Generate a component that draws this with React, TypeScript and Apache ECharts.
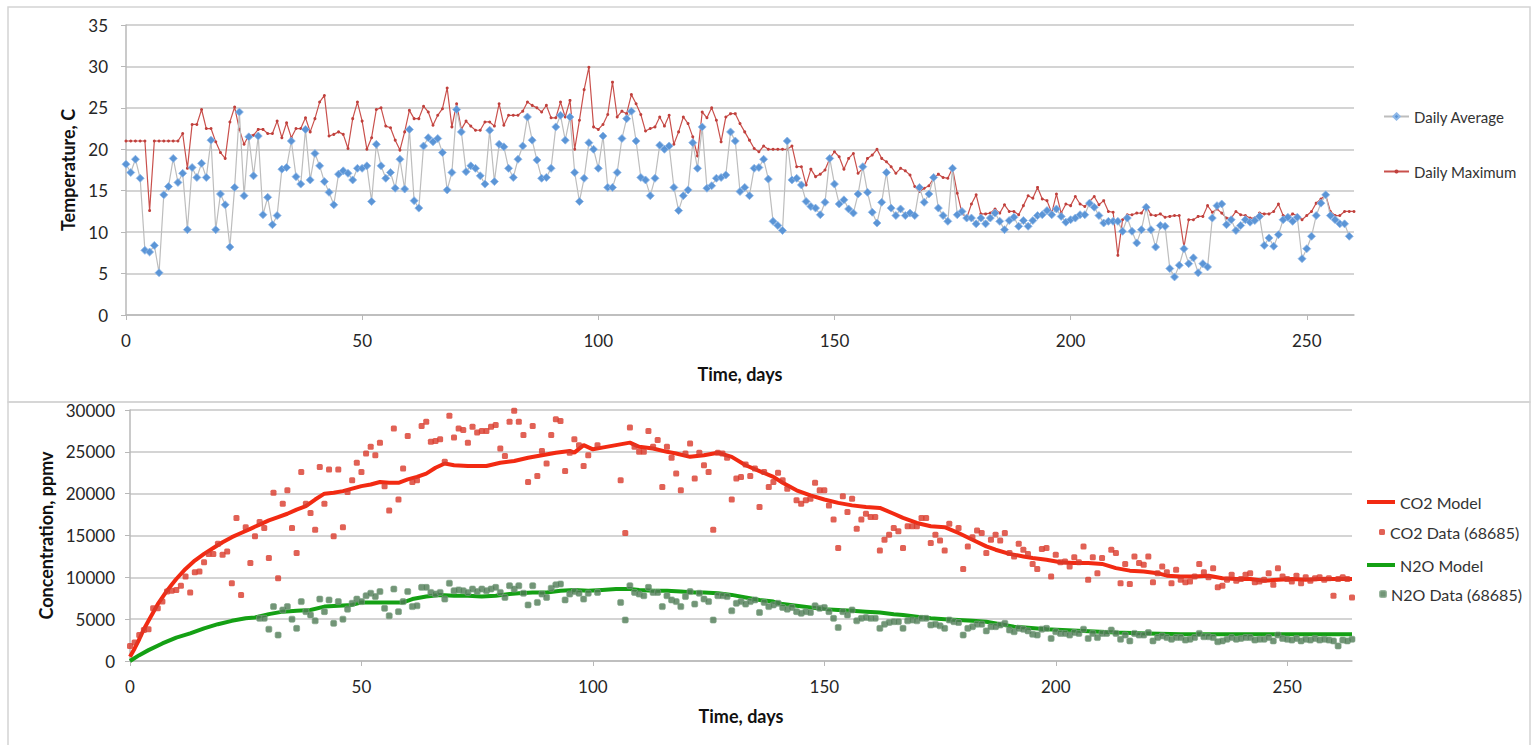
import React, { useEffect, useRef } from "react";
import * as echarts from "echarts";

// ---------- Top chart: daily temperatures (index = day) ----------
const avgTemp = [
  18.2, 17.2, 18.8, 16.5, 7.8, 7.6, 8.4, 5.1, 14.5, 15.5,
  18.9, 16, 17.1, 10.3, 17.8, 16.6, 18.3, 16.6, 21.1, 10.3,
  14.6, 13.3, 8.2, 15.4, 24.5, 14.4, 21.5, 16.8, 21.6, 12.1,
  14.2, 10.9, 12, 17.6, 17.8, 21, 16.7, 15.8, 22.4, 16.3,
  19.5, 18, 16.1, 14.8, 13.3, 17, 17.4, 17.1, 16.3, 17.7,
  17.7, 18, 13.7, 20.6, 18, 16.5, 17.2, 15.3, 18.8, 15.2,
  22.4, 13.8, 12.9, 20.4, 21.4, 20.9, 21.3, 19.6, 15.1, 17.2,
  24.8, 22.1, 17.3, 18, 17.7, 16.8, 15.8, 22.3, 16.1, 20.6,
  20.3, 17.7, 16.6, 18.8, 20.4, 23.9, 21.1, 18.7, 16.5, 16.6,
  17.7, 22.7, 24.1, 21.1, 23.9, 17.2, 13.7, 16.5, 20.8, 20,
  17.7, 21.6, 15.4, 15.4, 17.2, 21.3, 23.7, 24.6, 21, 16.6,
  16.3, 14.4, 16.5, 20.5, 20, 20.4, 15.4, 12.6, 14.4, 15.1,
  20.8, 17.7, 22.7, 15.3, 15.6, 16.5, 16.6, 16.9, 22.1, 21,
  14.9, 15.4, 14.4, 17.7, 17.8, 18.8, 16.4, 11.3, 10.8, 10.2,
  21, 16.3, 16.5, 15.7, 13.7, 13.1, 12.9, 12.1, 13.6, 18.9,
  15.8, 13.4, 13.9, 12.8, 12.3, 14.6, 17.9, 14.8, 12.4, 11.1,
  13.6, 17.2, 12.9, 12, 12.8, 12, 12.3, 12, 15.4, 13.6,
  14.6, 16.6, 12.9, 12, 11.3, 17.7, 12.1, 12.5, 11.7, 11.7,
  11, 11.7, 11, 11.7, 12.3, 11.3, 10.3, 11.4, 11.8, 10.7,
  11.4, 10.7, 11.4, 12, 12.1, 12.6, 12.1, 12.8, 11.9, 11.2,
  11.5, 11.7, 12.1, 12.1, 13.5, 13, 12, 11.1, 11.3, 11.3,
  11.3, 10.1, 11.7, 10.1, 8.7, 10.3, 13, 10.3, 8.2, 10.8,
  10.7, 5.6, 4.6, 6, 8, 6.2, 6.9, 5.1, 6.2, 5.8,
  11.7, 13.2, 13.4, 10.9, 11.5, 10.2, 10.8, 11.5, 11.2, 11.4,
  11.9, 8.4, 9.3, 8.3, 9.7, 11.5, 11.8, 11.3, 11.8, 6.8,
  8.0, 9.5, 12, 13.5, 14.5, 12, 11.5, 11, 11, 9.5,
];

const maxTemp = [
  21, 21, 21, 21, 21, 12.6, 21, 21, 21, 21,
  21, 21, 21.9, 17.7, 23, 23, 24.8, 22.5, 22.5, 20.9,
  19.6, 18.9, 23.3, 25.1, 22.4, 20.6, 21.7, 21.7, 22.4, 22.4,
  21.9, 21.9, 23.4, 21.4, 23.2, 21.4, 22.5, 22.5, 23.8, 22.1,
  23.7, 25.7, 26.5, 21.6, 21.8, 22.1, 21.8, 20.1, 23.7, 25.7,
  23.4, 20, 21.4, 24.8, 25, 22.8, 22.6, 21.1, 19.9, 22.1,
  24.7, 23.7, 23.7, 25.2, 24.5, 22.9, 24.1, 24.9, 27.4, 22.7,
  25.5, 22.4, 23.4, 22.8, 22.3, 22.3, 23.3, 23.3, 22.8, 25.5,
  22.9, 24.1, 24.1, 24.1, 24.6, 25.7, 25.3, 25, 24.5, 25.3,
  23.8, 23.8, 25.7, 23.9, 25.9, 20, 23.5, 27.2, 29.9, 22.7,
  22.4, 23, 24.2, 28.1, 23.9, 24.6, 24.3, 26.6, 25.5, 24.2,
  22.2, 22.5, 22.7, 23.9, 22.8, 24.1, 20.6, 22.1, 23.9, 23.1,
  21.5, 19.2, 24.5, 23.8, 25, 23.5, 20.9, 23.9, 24.3, 24.3,
  23.1, 22.1, 21.1, 20.1, 19.7, 20.4, 20, 20, 20, 20,
  20, 20.4, 17.9, 17.9, 15.7, 17.6, 16.7, 17, 17.5, 18.9,
  19.7, 19.1, 17.6, 18.9, 19.5, 17.1, 17.7, 18.9, 19.3, 20,
  18.9, 18.5, 17.9, 17.1, 17.7, 17.4, 16.9, 15.5, 14.9, 15.3,
  15.6, 16.5, 17, 16.6, 16.5, 17.7, 14.7, 12.3, 11.7, 13.4,
  14.5, 12.2, 12.2, 12.3, 12.8, 12.3, 13.3, 12.5, 12.5, 12.1,
  13.2, 14.4, 14.1, 15.4, 14, 13.8, 12.3, 14.6, 12.3, 13.4,
  13.2, 14.3, 13.4, 13.1, 13.7, 14.3, 13.3, 13.8, 12.5, 12.4,
  7.2, 11.5, 12.1, 12.1, 12.3, 12.3, 13.2, 12.1, 12, 12.2,
  11.8, 11.9, 12, 12, 8.2, 11.5, 11.5, 11.9, 11.9, 13.2,
  12.4, 12.8, 12.3, 11.7, 11.7, 12.5, 12.1, 12, 11.7, 11.7,
  12.3, 12.2, 12.2, 12.5, 13.4, 12, 11.8, 12.2, 12, 11.5,
  12, 12.5, 13.5, 14, 14.5, 12.5, 12, 12, 12.5, 12.5,
  12.5,
];

// ---------- Bottom chart: concentrations [day, ppmv] ----------
const co2Model: [number, number][] = [
  [0, 500], [1, 1500], [2, 2600], [3, 3800], [4, 4800], [5, 5800], [6, 6800], [7, 7600], [8, 8400], [9, 9100],
  [10, 9800], [12, 11000], [14, 12000], [16, 12800], [18, 13500], [20, 14200], [22, 14800], [24, 15300], [26, 15800], [28, 16300],
  [30, 16800], [32, 17200], [34, 17600], [36, 18100], [38, 18500], [40, 19300], [42, 20000], [44, 20100], [46, 20300], [48, 20600],
  [50, 20900], [52, 21100], [54, 21400], [56, 21300], [58, 21300], [60, 21700], [62, 22000], [64, 22400], [66, 23100], [68, 23600],
  [70, 23400], [73, 23300], [77, 23300], [80, 23700], [83, 23900], [86, 24300], [89, 24600], [92, 24900], [95, 25100], [96, 24900],
  [98, 25800], [100, 25300], [102, 25500], [105, 25800], [108, 26100], [110, 25600], [113, 25400], [116, 25000], [118, 24800], [121, 24400],
  [124, 24600], [127, 24900], [130, 24400], [133, 23400], [136, 22700], [139, 22000], [141, 21300], [144, 20400], [147, 19800], [150, 19300],
  [153, 18900], [156, 18600], [159, 18400], [162, 18300], [165, 17600], [167, 17100], [170, 16500], [173, 16100], [176, 16000], [179, 15300],
  [182, 14500], [185, 13700], [187, 13300], [190, 12800], [193, 12500], [195, 12300], [198, 12100], [201, 11800], [204, 11700], [207, 11700],
  [210, 11600], [213, 11100], [216, 10800], [219, 10700], [222, 10500], [224, 10200], [227, 10100], [230, 10100], [233, 10200], [236, 9900],
  [239, 9800], [242, 9800], [245, 9600], [248, 9700], [251, 9800], [254, 9700], [257, 9800], [260, 9800], [264, 9800],
];

const n2oModel: [number, number][] = [
  [0, 0], [2, 700], [4, 1300], [7, 2100], [10, 2800], [13, 3300], [16, 3900], [19, 4400], [22, 4800], [25, 5100],
  [27, 5200], [30, 5600], [33, 5900], [36, 6000], [39, 6100], [42, 6500], [45, 6600], [48, 6700], [50, 7000], [53, 7000],
  [56, 7000], [59, 7000], [61, 7400], [64, 7700], [67, 7900], [70, 7800], [73, 7800], [76, 7700], [79, 7800], [82, 8000],
  [84, 8100], [87, 8200], [90, 8200], [93, 8400], [96, 8500], [99, 8400], [102, 8500], [105, 8600], [108, 8600], [110, 8500],
  [113, 8400], [116, 8400], [119, 8300], [122, 8200], [124, 8200], [127, 8100], [130, 7900], [133, 7600], [136, 7300], [139, 7100],
  [141, 6800], [144, 6600], [147, 6400], [150, 6200], [153, 6100], [156, 6000], [159, 5900], [162, 5800], [165, 5600], [167, 5500],
  [170, 5300], [173, 5100], [176, 5000], [179, 4900], [182, 4800], [185, 4700], [191, 4100], [198, 3800], [206, 3600], [213, 3400],
  [220, 3300], [227, 3200], [235, 3200], [242, 3200], [249, 3200], [255, 3200], [260, 3200], [264, 3200],
];

const co2Data: [number, number][] = [
  [0, 1800], [1, 2200], [2, 3100], [3, 3700], [4, 3800], [5, 6300], [6, 6300], [7, 7100], [8, 8300], [9, 8400],
  [10, 8500], [11, 9000], [12, 10100], [13, 8200], [14, 10600], [15, 10700], [16, 11800], [17, 12800], [18, 12800], [19, 14000],
  [20, 12700], [21, 13100], [22, 9300], [23, 17100], [24, 7900], [25, 16000], [26, 11700], [27, 14900], [28, 16600], [29, 15900],
  [30, 12300], [31, 20100], [32, 9900], [33, 18800], [34, 20400], [35, 15900], [36, 12900], [37, 22600], [38, 18800], [39, 17700],
  [40, 15700], [41, 23200], [42, 18800], [43, 22900], [44, 14900], [45, 22900], [46, 16000], [47, 20200], [48, 21600], [49, 23700],
  [50, 22600], [51, 24800], [52, 25600], [53, 24600], [54, 26100], [55, 20900], [56, 18000], [57, 27800], [58, 19300], [59, 23000],
  [60, 26900], [61, 21400], [62, 21600], [63, 28100], [64, 28600], [65, 26200], [66, 26300], [67, 26500], [68, 23800], [69, 29300],
  [70, 26700], [71, 27800], [72, 27600], [73, 26100], [74, 28000], [75, 27300], [76, 27500], [77, 27500], [78, 28000], [79, 28200],
  [80, 25400], [81, 24500], [82, 28600], [83, 29900], [84, 28600], [85, 27000], [86, 21400], [87, 28100], [88, 22100], [89, 25100],
  [90, 23600], [91, 27000], [92, 28900], [93, 28700], [94, 22700], [95, 24900], [96, 26500], [97, 25800], [98, 23300], [99, 24600],
  [101, 25800], [106, 21600], [107, 15300], [108, 27900], [109, 25600], [110, 25000], [111, 25000], [112, 27500], [113, 25600], [114, 26400],
  [115, 20800], [116, 25600], [117, 24300], [118, 22400], [119, 20400], [120, 24800], [121, 26000], [122, 21800], [123, 24900], [124, 23400],
  [125, 22600], [126, 15700], [127, 24900], [128, 24800], [129, 24300], [130, 19300], [131, 21800], [132, 22000], [133, 23500], [134, 22100],
  [135, 23000], [136, 18400], [137, 22600], [138, 20800], [139, 21400], [140, 22500], [141, 21600], [142, 20600], [144, 19200], [145, 18800],
  [146, 19200], [147, 19400], [148, 21300], [149, 20400], [150, 20400], [151, 18600], [152, 16900], [153, 13500], [154, 19700], [155, 17800],
  [156, 19400], [157, 15800], [158, 16900], [159, 17600], [160, 17200], [161, 17200], [162, 13200], [163, 14500], [164, 15100], [165, 15900],
  [166, 15500], [167, 13500], [168, 16100], [169, 16100], [170, 16100], [171, 17100], [172, 17100], [173, 14100], [174, 15100], [175, 14400],
  [176, 13200], [177, 16400], [179, 15900], [180, 11000], [181, 13700], [182, 14800], [183, 15600], [184, 15300], [185, 12900], [186, 14500],
  [187, 15100], [188, 14400], [189, 15300], [190, 12900], [191, 12500], [192, 14000], [193, 13300], [194, 12800], [195, 11600], [196, 11000],
  [197, 13400], [198, 13500], [199, 10100], [200, 12700], [201, 11800], [202, 11900], [203, 11300], [204, 12400], [205, 11800], [206, 13700],
  [207, 9700], [208, 12400], [209, 10500], [210, 12300], [212, 13300], [213, 12900], [214, 9300], [215, 11600], [216, 9200], [217, 12500],
  [218, 11700], [219, 11500], [220, 12500], [221, 9400], [222, 10500], [223, 11300], [224, 10600], [225, 9300], [226, 10900], [227, 9700],
  [228, 9400], [229, 9500], [230, 10100], [231, 11600], [232, 10600], [233, 10000], [234, 11100], [235, 8800], [236, 9000], [237, 9700],
  [238, 10300], [239, 9600], [240, 9800], [241, 10300], [242, 10500], [243, 9400], [244, 9500], [245, 9700], [246, 10500], [247, 9100],
  [248, 11100], [249, 10100], [250, 9800], [251, 9500], [252, 10200], [253, 9300], [254, 10000], [255, 9600], [256, 9900], [257, 10000],
  [258, 9700], [259, 9900], [260, 7800], [261, 9800], [262, 10000], [263, 9800], [264, 7600],
];

const n2oData: [number, number][] = [
  [28, 5100], [29, 5100], [30, 3800], [31, 6500], [32, 3100], [33, 6100], [34, 6500], [35, 5000], [36, 3900], [37, 7100],
  [38, 5900], [39, 5500], [40, 4800], [41, 7400], [42, 5900], [43, 7300], [44, 4500], [45, 7100], [46, 5000], [47, 6200],
  [48, 6900], [49, 7400], [50, 7100], [51, 7800], [52, 8100], [53, 7700], [54, 8300], [55, 6300], [56, 5400], [57, 8600],
  [58, 5900], [59, 7100], [60, 8300], [61, 6500], [62, 6600], [63, 8800], [64, 8800], [65, 8200], [66, 8000], [67, 8200],
  [68, 7400], [69, 9300], [70, 8400], [71, 8500], [72, 8400], [73, 8200], [74, 8600], [75, 8300], [76, 8600], [77, 8400],
  [78, 8600], [79, 8800], [80, 8200], [81, 7600], [82, 9000], [83, 8600], [84, 9000], [85, 8100], [86, 6700], [87, 9000],
  [88, 7000], [89, 8000], [90, 7600], [91, 8700], [92, 9100], [93, 9200], [94, 7300], [95, 8000], [96, 8300], [97, 8100],
  [98, 7400], [99, 8100], [101, 8200], [106, 7000], [107, 4900], [108, 9000], [109, 8200], [110, 8000], [111, 7800], [112, 8800],
  [113, 8200], [114, 8200], [115, 6500], [116, 7800], [117, 7300], [118, 7100], [119, 6500], [120, 7700], [121, 8300], [122, 6800],
  [123, 8100], [124, 7400], [125, 7100], [126, 4900], [127, 7800], [128, 7800], [129, 7700], [130, 6000], [131, 6900], [132, 7100],
  [133, 6800], [134, 7100], [135, 7300], [136, 5800], [137, 7000], [138, 6500], [139, 6700], [140, 6900], [141, 6400], [142, 6200],
  [143, 6400], [144, 5900], [145, 5700], [146, 5900], [147, 5800], [148, 6600], [149, 6300], [150, 6400], [151, 5900], [152, 5100],
  [153, 4000], [154, 5900], [155, 5500], [156, 6100], [157, 4800], [158, 5100], [159, 5200], [160, 5100], [161, 5100], [162, 3900],
  [163, 4400], [164, 4600], [165, 4700], [166, 4700], [167, 3900], [168, 4800], [169, 4900], [170, 4800], [171, 5100], [172, 5100],
  [173, 4300], [174, 4400], [175, 4200], [176, 3900], [177, 4900], [178, 4700], [179, 4600], [180, 3100], [181, 3900], [182, 4100],
  [183, 4400], [184, 4400], [185, 3600], [186, 4100], [187, 4100], [188, 4300], [189, 4500], [190, 3700], [191, 3500], [192, 3900],
  [193, 3800], [194, 3600], [195, 3200], [196, 3100], [197, 3800], [198, 3900], [199, 2700], [200, 3500], [201, 3300], [202, 3300],
  [203, 3100], [204, 3400], [205, 3300], [206, 3800], [207, 2700], [208, 3300], [209, 2800], [210, 3300], [211, 3300], [212, 3700],
  [213, 3300], [214, 2600], [215, 3100], [216, 2400], [217, 3300], [218, 3100], [219, 3100], [220, 3400], [221, 2400], [222, 2800],
  [223, 3000], [224, 2800], [225, 2600], [226, 2800], [227, 2800], [228, 2500], [229, 2600], [230, 2800], [231, 3300], [232, 2900],
  [233, 2900], [234, 2800], [235, 2300], [236, 2400], [237, 2600], [238, 2800], [239, 2600], [240, 2700], [241, 2800], [242, 2800],
  [243, 2500], [244, 2600], [245, 2600], [246, 2800], [247, 2400], [248, 3100], [249, 2700], [250, 2600], [251, 2500], [252, 2700],
  [253, 2400], [254, 2600], [255, 2500], [256, 2700], [257, 2500], [258, 2600], [259, 2500], [260, 2400], [261, 1800], [262, 2500],
  [263, 2400], [264, 2600],
];

const dayTicks = [0, 50, 100, 150, 200, 250];

const FONT = "Lato, 'Open Sans', sans-serif";
const GRID_COLOR = "#c6c6c6";
const LABEL_COLOR = "#262626";

export default function App() {
  const ref = useRef<HTMLDivElement>(null);

  useEffect(() => {
    if (!ref.current) return;
    const chart = echarts.init(ref.current, undefined, { renderer: "svg" });

    const xAxisBase = (gridIndex: number, max: number, nameGap: number) => ({
      gridIndex,
      type: "value",
      min: 0,
      max,
      interval: 50,
      name: "Time, days",
      nameLocation: "middle",
      nameGap,
      nameTextStyle: { fontFamily: FONT, fontWeight: "bold", fontSize: 18, color: "#111" },
      axisLine: { show: true, lineStyle: { color: "#b8b8b8", width: 1.5 } },
      axisTick: { show: true, length: 5, customValues: dayTicks, lineStyle: { color: "#b8b8b8" } },
      axisLabel: { customValues: dayTicks, margin: 17, fontFamily: FONT, fontSize: 17, color: LABEL_COLOR },
      splitLine: { show: false },
    });

    const yAxisBase = (gridIndex: number, max: number, interval: number, name: string, nameGap: number, margin: number) => ({
      gridIndex,
      type: "value",
      min: 0,
      max,
      interval,
      name,
      nameLocation: "middle",
      nameGap,
      nameTextStyle: { fontFamily: FONT, fontWeight: "bold", fontSize: 18, color: "#111" },
      axisLine: { show: true, lineStyle: { color: "#b8b8b8", width: 1.5 } },
      axisTick: { show: true, length: 5, lineStyle: { color: "#b8b8b8" } },
      axisLabel: {
        margin,
        fontFamily: FONT,
        fontSize: 17,
        color: LABEL_COLOR,
        formatter: (v: number) => String(v),
      },
      splitLine: { show: true, lineStyle: { color: GRID_COLOR, width: 1.5 } },
    });

    const legendBase = (name: string, left: number, top: number, w: number, h: number, fs: number, icon?: string) => ({
      show: true,
      orient: "vertical",
      left,
      top,
      padding: 0,
      itemWidth: w,
      itemHeight: h,
      data: [icon ? { name, icon } : name],
      selectedMode: false,
      textStyle: { fontFamily: FONT, fontSize: fs, color: "#333" },
    });

    chart.setOption({
      animation: false,
      backgroundColor: "#ffffff",
      textStyle: { fontFamily: FONT },
      graphic: [
        { type: "rect", shape: { x: 8, y: 7, width: 1522, height: 395 }, style: { fill: "none", stroke: "#d4d4d4", lineWidth: 1.5 }, silent: true },
        { type: "rect", shape: { x: 8, y: 402, width: 1522, height: 360 }, style: { fill: "none", stroke: "#d4d4d4", lineWidth: 1.5 }, silent: true },
      ],
      grid: [
        { left: 126, top: 25, width: 1228, height: 290 },
        { left: 130, top: 410, width: 1222, height: 251 },
      ],
      xAxis: [xAxisBase(0, 260, 50), xAxisBase(1, 264, 46)],
      yAxis: [
        yAxisBase(0, 35, 5, "Temperature, C", 46, 18),
        yAxisBase(1, 30000, 5000, "Concentration, ppmv", 72, 15),
      ],
      legend: [
        legendBase("Daily Average", 1383, 109, 25, 8, 15),
        legendBase("Daily Maximum", 1383, 164, 25, 5, 15),
        legendBase("CO2 Model", 1367, 494, 28, 4, 16, "rect"),
        legendBase("CO2 Data (68685)", 1379, 524, 6, 6, 16),
        legendBase("N2O Model", 1367, 557, 28, 4, 16, "rect"),
        legendBase("N2O Data (68685)", 1379, 586, 6, 6, 16),
      ],
      series: [
        {
          name: "Daily Average",
          type: "line",
          xAxisIndex: 0,
          yAxisIndex: 0,
          data: avgTemp.map((v, i) => [i, v]),
          symbol: "diamond",
          symbolSize: 8,
          showAllSymbol: true,
          lineStyle: { color: "#bdbdbd", width: 1.2 },
          itemStyle: { color: "#5b95d6", borderColor: "#8fb8e8", borderWidth: 0.8 },
          z: 3,
        },
        {
          name: "Daily Maximum",
          type: "line",
          xAxisIndex: 0,
          yAxisIndex: 0,
          data: maxTemp.map((v, i) => [i, v]),
          symbol: "circle",
          symbolSize: 3,
          showAllSymbol: true,
          lineStyle: { color: "#c9504c", width: 1.2 },
          itemStyle: { color: "#c0403c" },
          z: 2,
        },
        {
          name: "CO2 Model",
          type: "line",
          xAxisIndex: 1,
          yAxisIndex: 1,
          data: co2Model,
          symbol: "none",
          lineStyle: { color: "#f22a12", width: 4 },
          itemStyle: { color: "#f22a12" },
          z: 2,
        },
        {
          name: "N2O Model",
          type: "line",
          xAxisIndex: 1,
          yAxisIndex: 1,
          data: n2oModel,
          symbol: "none",
          lineStyle: { color: "#14a014", width: 4 },
          itemStyle: { color: "#14a014" },
          z: 2,
        },
        {
          name: "CO2 Data (68685)",
          type: "scatter",
          xAxisIndex: 1,
          yAxisIndex: 1,
          data: co2Data,
          symbol: "roundRect",
          symbolSize: 6,
          itemStyle: { color: "#d93a2b" },
          z: 3,
        },
        {
          name: "N2O Data (68685)",
          type: "scatter",
          xAxisIndex: 1,
          yAxisIndex: 1,
          data: n2oData,
          symbol: "roundRect",
          symbolSize: 6,
          itemStyle: { color: "#4f7a55", borderColor: "#7fa386", borderWidth: 0.8 },
          z: 3,
        },
      ],
    });

    return () => chart.dispose();
  }, []);

  return (
    <div
      ref={ref}
      style={{ position: "absolute", left: 0, top: 0, width: 1533, height: 745, background: "#fff" }}
    />
  );
}
